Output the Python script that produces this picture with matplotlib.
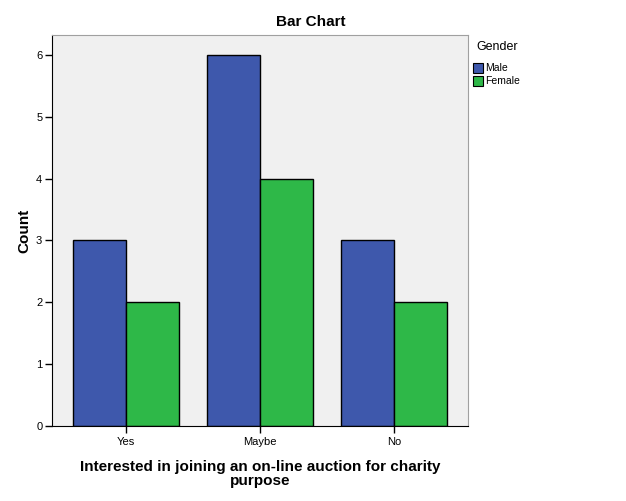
import matplotlib
matplotlib.use("Agg")
import matplotlib.pyplot as plt
import numpy as np
from matplotlib.patches import Rectangle

plt.rcParams['font.family'] = ['Liberation Sans', 'DejaVu Sans']

categories = ["Yes", "Maybe", "No"]
male = [3, 6, 3]
female = [2, 4, 2]
series_names = ["Male", "Female"]
colors = ["#3E58AC", "#2EB848"]

fig = plt.figure(figsize=(6.26, 5.01), dpi=100)
ax = fig.add_axes([52/626, 1-426/501, (468-52)/626, (426-35)/501])
ax.set_facecolor("#F0F0F0")

x = np.arange(len(categories))
w = 0.396
ax.bar(x - w/2, male, w, color=colors[0], edgecolor="black", linewidth=1, zorder=2)
ax.bar(x + w/2, female, w, color=colors[1], edgecolor="black", linewidth=1, zorder=2)

ax.set_xlim(-0.552, 2.552)
ax.set_ylim(0, 6.32)
ax.set_xticks(x)
ax.set_xticklabels(categories, fontsize=8)
ax.set_yticks(range(0, 7))
ax.tick_params(axis='y', labelsize=8, length=5, width=1, pad=2)
ax.tick_params(axis='x', length=5, width=1, pad=3)

for s in ['top', 'right']:
    ax.spines[s].set_color("#A0A0A0")
for s in ['left', 'bottom']:
    ax.spines[s].set_color("black")

ax.set_ylabel("Count", fontsize=11, fontweight='bold', labelpad=3)
ax.set_xlabel("Interested in joining an on-line auction for charity\npurpose",
              fontsize=11, fontweight='bold', labelpad=9, linespacing=1.05)

fig.text(0.497, 1-22/501, "Bar Chart", ha='center', va='center', fontsize=11, fontweight='bold')

# legend
fig.text(476/626, 1-47/501, "Gender", ha='left', va='center', fontsize=9)
for i, (name, c) in enumerate(zip(series_names, colors)):
    yc = 68 + i*13
    fig.patches.append(Rectangle((473/626, 1-(yc+5)/501), 10/626, 10/501,
                                 transform=fig.transFigure, facecolor=c,
                                 edgecolor="black", linewidth=0.8))
    fig.text(485/626, 1-yc/501, name, ha='left', va='center', fontsize=7.5)

fig.savefig("out.png", dpi=100)
